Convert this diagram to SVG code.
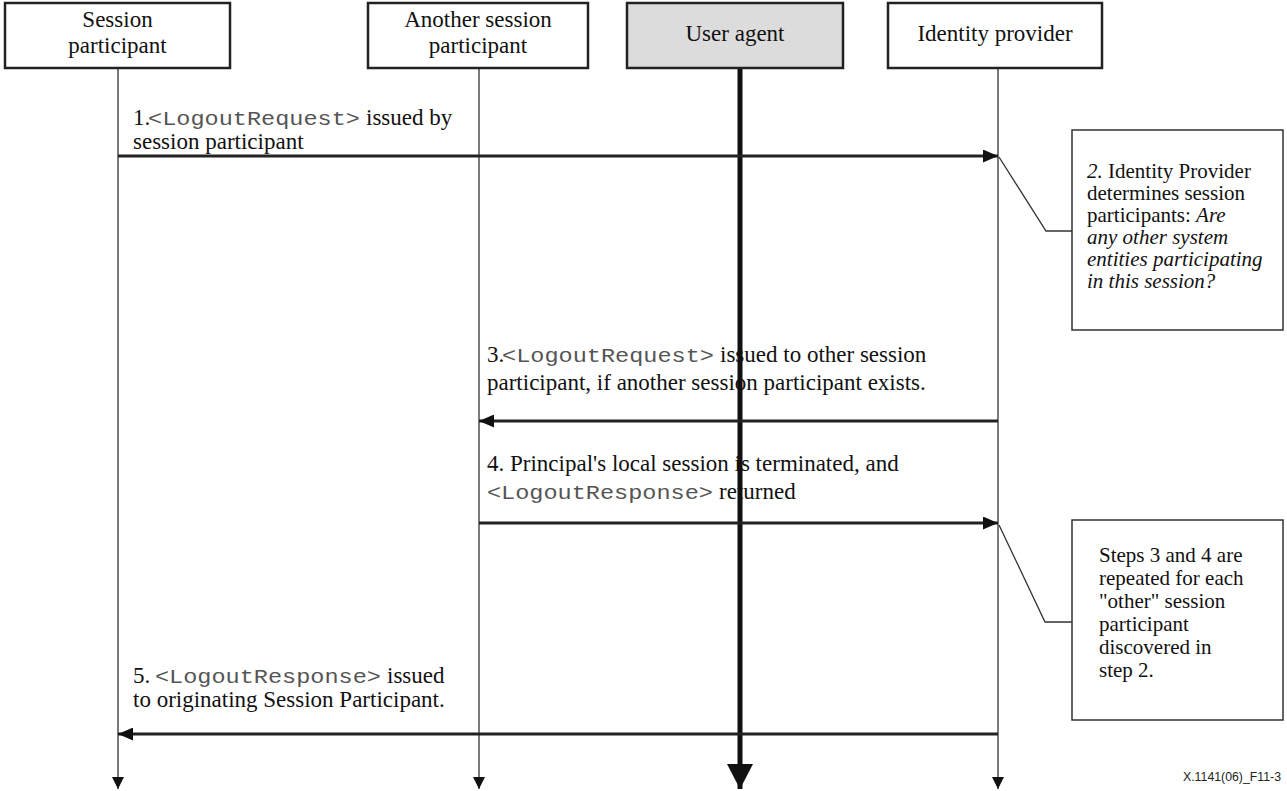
<svg xmlns="http://www.w3.org/2000/svg" width="1287" height="791" viewBox="0 0 1287 791">
<style>
.hdr{fill:#fff;stroke:#222;stroke-width:2.5}
.ua{fill:#dcdcdc;stroke:#222;stroke-width:2.5}
.ht{font-family:"Liberation Serif",serif;font-size:23px;fill:#111;text-anchor:middle}
.life{stroke:#333;stroke-width:1.3;fill:none}
.lifeT{stroke:#111;stroke-width:5;fill:none}
.msg{stroke:#222;stroke-width:3;fill:none}
.t{font-family:"Liberation Serif",serif;font-size:23px;fill:#111}
.m{font-family:"Liberation Mono",monospace;font-size:21px;fill:#555}
.nt{font-family:"Liberation Serif",serif;font-size:21px;fill:#111}
.note{fill:#fff;stroke:#333;stroke-width:1.5}
.lead{stroke:#333;stroke-width:1.3;fill:none}
.foot{font-family:"Liberation Sans",sans-serif;font-size:13px;fill:#222}
</style>
<defs>
<marker id="ah" markerUnits="userSpaceOnUse" markerWidth="15" markerHeight="13" refX="15" refY="6.5" orient="auto"><path d="M0,0 L15,6.5 L0,13 z" fill="#111"/></marker>
<marker id="la" markerUnits="userSpaceOnUse" markerWidth="12" markerHeight="12" refX="12" refY="6" orient="auto"><path d="M0,0 L12,6 L0,12 z" fill="#111"/></marker>
<marker id="lb" markerUnits="userSpaceOnUse" markerWidth="25" markerHeight="26" refX="25" refY="13" orient="auto"><path d="M0,0 L25,13 L0,26 z" fill="#111"/></marker>
</defs>

<g id="lifelines">
<line class="life" x1="118" y1="68" x2="118" y2="789" marker-end="url(#la)"/>
<line class="life" x1="479" y1="68" x2="479" y2="789" marker-end="url(#la)"/>
<line class="lifeT" x1="740" y1="68" x2="740" y2="789" marker-end="url(#lb)"/>
<line class="life" x1="998" y1="68" x2="998" y2="789" marker-end="url(#la)"/>
</g>

<g id="session-participant">
<rect class="hdr" x="5" y="3" width="225" height="65"/>
<text class="ht" x="117.5" y="27">Session</text>
<text class="ht" x="117.5" y="53">participant</text>
</g>
<g id="another-session-participant">
<rect class="hdr" x="368" y="3" width="220" height="65"/>
<text class="ht" x="478" y="27">Another session</text>
<text class="ht" x="478" y="53">participant</text>
</g>
<g id="user-agent">
<rect class="ua" x="627" y="3" width="216" height="65"/>
<text class="ht" x="735" y="41">User agent</text>
</g>
<g id="identity-provider">
<rect class="hdr" x="888" y="3" width="214" height="65"/>
<text class="ht" x="995" y="41">Identity provider</text>
</g>

<g id="connectors">
<line class="msg" x1="118" y1="156" x2="998" y2="156" marker-end="url(#ah)"/>
<line class="msg" x1="998" y1="421" x2="479" y2="421" marker-end="url(#ah)"/>
<line class="msg" x1="479" y1="523" x2="998" y2="523" marker-end="url(#ah)"/>
<line class="msg" x1="998" y1="734" x2="118" y2="734" marker-end="url(#ah)"/>
<polyline class="lead" points="999,157 1046,231 1072,231"/>
<polyline class="lead" points="999,525 1045,622 1072,622"/>
</g>

<g id="msg1">
<text class="t" x="133" y="125">1.</text>
<text class="m" x="148" y="125" textLength="212" lengthAdjust="spacingAndGlyphs">&lt;LogoutRequest&gt;</text>
<text class="t" x="366" y="125">issued by</text>
<text class="t" x="133" y="149">session participant</text>
</g>

<g id="note1">
<rect class="note" x="1072" y="130" width="211" height="200"/>
<text class="nt" x="1087" y="178"><tspan font-style="italic">2.</tspan> Identity Provider</text>
<text class="nt" x="1087" y="200">determines session</text>
<text class="nt" x="1087" y="222">participants: <tspan font-style="italic">Are</tspan></text>
<text class="nt" x="1087" y="244" font-style="italic">any other system</text>
<text class="nt" x="1087" y="266" font-style="italic">entities participating</text>
<text class="nt" x="1087" y="288" font-style="italic">in this session?</text>
</g>

<g id="msg3">
<text class="t" x="487" y="362">3.</text>
<text class="m" x="502" y="362" textLength="212" lengthAdjust="spacingAndGlyphs">&lt;LogoutRequest&gt;</text>
<text class="t" x="720" y="362">issued to other session</text>
<text class="t" x="487" y="390">participant, if another session participant exists.</text>
</g>

<g id="msg4">
<text class="t" x="487" y="471">4. Principal's local session is terminated, and</text>
<text class="m" x="487" y="499" textLength="226" lengthAdjust="spacingAndGlyphs">&lt;LogoutResponse&gt;</text>
<text class="t" x="719" y="499">returned</text>
</g>

<g id="note2">
<rect class="note" x="1072" y="520" width="211" height="200"/>
<text class="nt" x="1099" y="562">Steps 3 and 4 are</text>
<text class="nt" x="1099" y="585">repeated for each</text>
<text class="nt" x="1099" y="608">"other" session</text>
<text class="nt" x="1099" y="631">participant</text>
<text class="nt" x="1099" y="654">discovered in</text>
<text class="nt" x="1099" y="677">step 2.</text>
</g>

<g id="msg5">
<text class="t" x="133" y="683">5.</text>
<text class="m" x="155" y="683" textLength="226" lengthAdjust="spacingAndGlyphs">&lt;LogoutResponse&gt;</text>
<text class="t" x="387" y="683">issued</text>
<text class="t" x="133" y="707">to originating Session Participant.</text>
</g>

<text class="foot" x="1183" y="781" textLength="98" lengthAdjust="spacingAndGlyphs">X.1141(06)_F11-3</text>
</svg>
